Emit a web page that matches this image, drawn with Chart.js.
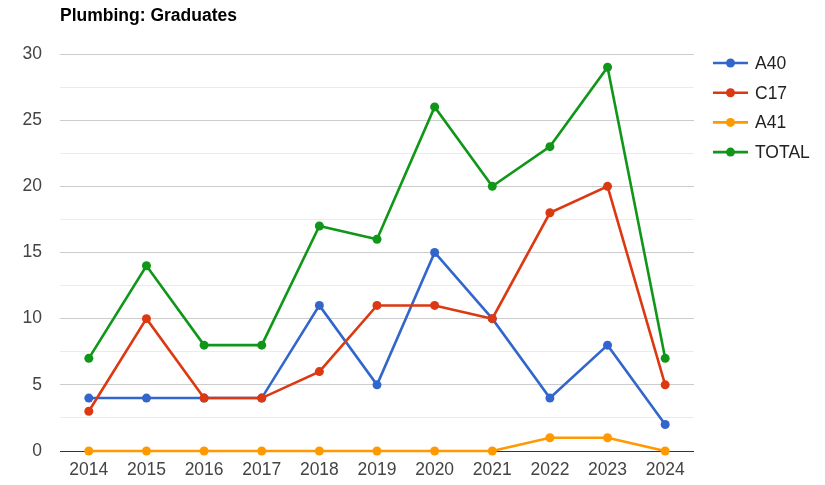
<!DOCTYPE html>
<html>
<head>
<meta charset="utf-8">
<script src="https://cdn.jsdelivr.net/npm/chart.js@4"></script>
<style>
  html, body { margin: 0; padding: 0; background: #fff; }
  #wrap { width: 825px; height: 485px; }
</style>
</head>
<body>
<div id="wrap"><canvas id="lineChart" width="825" height="485"></canvas></div>
<script>
// chart data
const years = ['2014', '2015', '2016', '2017', '2018', '2019', '2020', '2021', '2022', '2023', '2024'];
const a40 = [4, 4, 4, 4, 11, 5, 15, 10, 4, 8, 2];
const c17 = [3, 10, 4, 4, 6, 11, 11, 10, 18, 20, 5];
const a41 = [0, 0, 0, 0, 0, 0, 0, 0, 1, 1, 0];
const total = [7, 14, 8, 8, 17, 16, 26, 20, 23, 29, 7];
const seriesNames = ['A40', 'C17', 'A41', 'TOTAL'];
const seriesColors = ['#3366cc', '#dc3912', '#ff9900', '#109618'];
const chartTitle = 'Plumbing: Graduates';

const FONT = "Arial, 'Liberation Sans', sans-serif";

function makeSet(i, data) {
    return {
        label: seriesNames[i],
        data: data,
        borderColor: seriesColors[i],
        backgroundColor: seriesColors[i],
        borderWidth: 2.6,
        pointRadius: 4.5,
        pointHoverRadius: 4.5,
        pointBorderWidth: 0,
        tension: 0,
        fill: false,
        clip: 8,
        order: 3 - i
    };
}

// title + google-style legend drawn straight on the canvas
const decorations = {
    id: 'decorations',
    afterDraw(chart) {
        const ctx = chart.ctx;
        ctx.save();
        ctx.fillStyle = '#000';
        ctx.font = 'bold 17.5px ' + FONT;
        ctx.textBaseline = 'middle';
        ctx.textAlign = 'left';
        ctx.fillText(chartTitle, 60, 16);

        ctx.font = '17.5px ' + FONT;
        seriesNames.forEach((name, i) => {
            const y = 63 + i * 29.7;
            ctx.strokeStyle = seriesColors[i];
            ctx.lineWidth = 2.6;
            ctx.beginPath();
            ctx.moveTo(713, y);
            ctx.lineTo(748, y);
            ctx.stroke();
            ctx.fillStyle = seriesColors[i];
            ctx.beginPath();
            ctx.arc(730.5, y, 4.5, 0, Math.PI * 2);
            ctx.fill();
            ctx.fillStyle = '#222';
            ctx.fillText(name, 755, y + 1);
        });
        ctx.restore();
    }
};

new Chart(document.getElementById('lineChart'), {
    type: 'line',
    data: {
        labels: years,
        datasets: [makeSet(0, a40), makeSet(1, c17), makeSet(2, a41), makeSet(3, total)]
    },
    options: {
        responsive: false,
        animation: false,
        layout: { padding: { top: 54, right: 131, left: 0, bottom: 0 } },
        plugins: {
            legend: { display: false },
            title: { display: false },
            tooltip: { enabled: false }
        },
        scales: {
            x: {
                offset: true,
                grid: { display: false, drawTicks: false },
                border: { display: false },
                ticks: {
                    color: '#444',
                    font: { family: FONT, size: 17.5 },
                    padding: 9,
                    maxRotation: 0
                },
                afterFit(scale) { scale.height = 34; }
            },
            y: {
                min: 0,
                max: 30,
                border: { display: false },
                grid: {
                    drawTicks: false,
                    lineWidth: 1,
                    color(c) {
                        const v = c.tick.value;
                        if (v === 0) return '#333';
                        return v % 5 === 0 ? '#cccccc' : '#ebebeb';
                    }
                },
                ticks: {
                    stepSize: 2.5,
                    color: '#444',
                    font: { family: FONT, size: 17.5 },
                    padding: 18,
                    callback(v) { return v % 5 === 0 ? String(v) : ''; }
                },
                afterFit(scale) { scale.width = 60; }
            }
        }
    },
    plugins: [decorations]
});
</script>
</body>
</html>
